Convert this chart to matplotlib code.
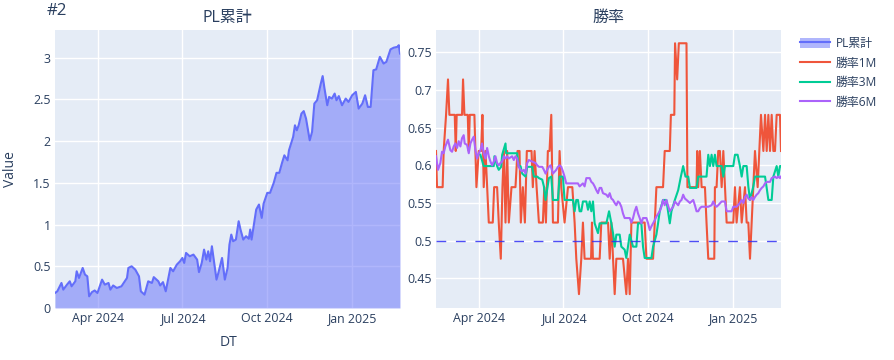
import pandas as pd
import matplotlib
matplotlib.use('Agg')
import matplotlib.pyplot as plt
import matplotlib.dates as mdates
from matplotlib.lines import Line2D
from matplotlib.patches import Patch

plt.rcParams['font.family'] = ['Open Sans', 'Noto Sans CJK JP', 'DejaVu Sans']

## DADOS (dias desde a data inicial)
start = pd.Timestamp('2024-02-14')

pl_day = [0, 2.5, 7, 9, 13, 16, 18, 22, 23.5, 26, 30, 32.5, 35, 37, 40, 43, 46, 51, 54, 58, 60, 63, 67, 72,
          78, 79.5, 83, 87, 91, 93, 97, 101, 105, 107, 112, 114, 117, 120, 125, 128, 132, 135.5, 138, 140,
          142, 146, 150, 154, 156, 159, 161.5, 164, 166, 168, 170, 175, 177, 181, 184, 187, 189, 191, 193,
          196, 199, 201, 204, 207, 210, 211.5, 213, 218, 221, 224, 226, 230, 233, 237, 240, 243, 246, 248.5,
          252, 253.5, 258, 260, 262, 264, 267, 269.5, 272, 276, 278.5, 281, 284, 288, 290, 292, 295, 297,
          300, 303, 305, 307.5, 311, 315, 318, 322, 326, 329, 333, 336, 339, 342, 345, 348, 352, 356, 359,
          363.5, 367, 371, 372.5, 373.8]
pl_value = [0.18, 0.20, 0.30, 0.22, 0.28, 0.32, 0.26, 0.32, 0.44, 0.36, 0.48, 0.40, 0.38, 0.14, 0.19, 0.21,
            0.18, 0.34, 0.28, 0.30, 0.22, 0.27, 0.24, 0.26, 0.36, 0.48, 0.50, 0.46, 0.38, 0.20, 0.16, 0.32,
            0.30, 0.37, 0.32, 0.27, 0.31, 0.20, 0.48, 0.44, 0.52, 0.56, 0.60, 0.54, 0.66, 0.62, 0.64, 0.58,
            0.43, 0.54, 0.70, 0.58, 0.68, 0.56, 0.74, 0.34, 0.42, 0.60, 0.34, 0.48, 0.76, 0.88, 0.80, 0.82,
            1.04, 0.94, 0.82, 0.86, 0.83, 0.94, 0.82, 1.18, 1.24, 1.08, 1.25, 1.38, 1.38, 1.50, 1.62, 1.62,
            1.74, 1.83, 1.77, 1.89, 2.05, 2.19, 2.13, 2.19, 2.33, 2.36, 2.27, 2.01, 2.11, 2.45, 2.49, 2.69,
            2.78, 2.63, 2.43, 2.53, 2.51, 2.57, 2.49, 2.54, 2.43, 2.51, 2.47, 2.55, 2.59, 2.39, 2.45, 2.55,
            2.41, 2.41, 2.85, 2.86, 3.01, 2.93, 2.95, 3.10, 3.12, 3.13, 3.15, 3.05]

wr1m_day = [0, 1.1, 7.2, 8.3, 10.9, 13, 14.5, 20.3, 21.4, 22.4, 28.2, 29.3, 30.8, 34.4, 35.5, 36.6, 41.6,
            43.8, 46.3, 48.9, 50.3, 51.7, 53.6, 55.4, 57.2, 61.5, 63, 66.2, 68, 70.2, 72, 73.5, 75.3, 77.1,
            78.9, 81.8, 86.1, 88.3, 90.5, 91.9, 94.1, 96.3, 98.4, 103.5, 104.9, 106.8, 109, 111.5, 115.8,
            117.3, 119.1, 121.2, 123, 124.9, 126.7, 132.1, 133.9, 135.7, 139.3, 143, 147.7, 150.2, 152,
            154.9, 157.4, 159.2, 161, 168, 169, 170, 177.3, 179.1, 186.4, 188.2, 190, 191.8, 193.6, 195.4,
            202.6, 206.2, 208, 209.9, 211.7, 226.1, 228, 235.2, 237, 238.8, 246, 247.8, 253.3, 254.5, 258.2,
            259, 261.3, 263.1, 271.4, 272.4, 282.3, 283, 284.1, 285.9, 287.8, 291.4, 293.1, 295, 301.5,
            302.2, 304, 305.8, 307.6, 309.5, 311.3, 313.1, 314.9, 322.1, 323.9, 325.7, 329.3, 331.2, 334.8,
            336.6, 338.4, 340.2, 342, 343.8, 345.6, 348.5, 350.3, 352.1, 354.7, 356.5, 358.3, 360.1, 361.9,
            363.7, 365.5, 367.3, 369.1, 372.7, 373.8]
wr1m = [0.619, 0.571, 0.571, 0.619, 0.667, 0.714, 0.667, 0.667, 0.619, 0.667, 0.667, 0.714, 0.667, 0.667,
        0.619, 0.667, 0.667, 0.571, 0.619, 0.619, 0.667, 0.571, 0.619, 0.571, 0.524, 0.524, 0.571, 0.571,
        0.524, 0.476, 0.571, 0.619, 0.524, 0.619, 0.524, 0.571, 0.571, 0.619, 0.619, 0.524, 0.571, 0.524,
        0.619, 0.619, 0.571, 0.619, 0.571, 0.524, 0.524, 0.571, 0.524, 0.619, 0.619, 0.667, 0.524, 0.524,
        0.619, 0.571, 0.524, 0.571, 0.571, 0.524, 0.476, 0.429, 0.476, 0.524, 0.476, 0.476, 0.524, 0.476,
        0.476, 0.524, 0.524, 0.476, 0.524, 0.476, 0.429, 0.476, 0.476, 0.429, 0.476, 0.429, 0.524, 0.524,
        0.476, 0.476, 0.524, 0.571, 0.571, 0.619, 0.619, 0.667, 0.667, 0.762, 0.714, 0.762, 0.762, 0.571,
        0.571, 0.619, 0.571, 0.619, 0.571, 0.571, 0.524, 0.476, 0.476, 0.571, 0.571, 0.619, 0.619, 0.571,
        0.619, 0.571, 0.524, 0.524, 0.571, 0.524, 0.571, 0.524, 0.571, 0.524, 0.524, 0.476, 0.524, 0.571,
        0.619, 0.571, 0.619, 0.667, 0.619, 0.667, 0.619, 0.667, 0.619, 0.667, 0.619, 0.619, 0.667, 0.667,
        0.619]

wr3m_day = [48.1, 51.7, 62.6, 63.3, 66.2, 68, 70.6, 71.7, 75.3, 76, 87.9, 89.7, 91.6, 93.4, 97, 98.8, 104.2,
            106, 109.7, 111.5, 115.1, 116.9, 118.7, 122.3, 124.9, 126.7, 132.1, 133.9, 137.5, 139.3, 148.4,
            150.2, 152, 153.8, 155.6, 157.4, 159.2, 162.9, 164.7, 166.5, 168.3, 170.1, 171.9, 175.5, 177.3,
            184.6, 187.5, 190, 191.8, 193.6, 195.4, 199, 200.8, 204.4, 206.2, 208, 209.9, 213.5, 217.1,
            218.9, 222.5, 224.3, 226.1, 233.4, 235.2, 238.8, 240.6, 242.4, 246, 249.6, 251.4, 253.3, 255.1,
            258.8, 262.4, 265.3, 267.8, 270.3, 273.3, 275.1, 282.3, 284.1, 293.1, 295, 296.8, 298.6, 300.4,
            302.2, 304, 309.5, 311.3, 313.1, 322.1, 323.9, 326.8, 329.3, 331.2, 333, 336.6, 338.4, 340.2,
            343.8, 345.6, 356.5, 358.3, 360.1, 363.7, 365.5, 369.1, 370.9, 372.7, 373.8]
wr3m = [0.614, 0.599, 0.599, 0.612, 0.599, 0.594, 0.598, 0.614, 0.629, 0.616, 0.616, 0.598, 0.599, 0.589,
        0.585, 0.598, 0.598, 0.585, 0.585, 0.583, 0.581, 0.572, 0.554, 0.583, 0.585, 0.554, 0.554, 0.585,
        0.585, 0.554, 0.554, 0.539, 0.554, 0.554, 0.539, 0.539, 0.552, 0.552, 0.541, 0.552, 0.539, 0.552,
        0.523, 0.510, 0.523, 0.523, 0.539, 0.523, 0.510, 0.492, 0.508, 0.508, 0.492, 0.488, 0.477, 0.492,
        0.508, 0.492, 0.492, 0.523, 0.523, 0.492, 0.477, 0.477, 0.492, 0.508, 0.523, 0.539, 0.554, 0.554,
        0.539, 0.523, 0.539, 0.554, 0.567, 0.585, 0.599, 0.585, 0.585, 0.570, 0.570, 0.585, 0.585, 0.614,
        0.599, 0.614, 0.599, 0.614, 0.599, 0.599, 0.585, 0.599, 0.599, 0.614, 0.614, 0.599, 0.585, 0.599,
        0.599, 0.572, 0.554, 0.572, 0.585, 0.585, 0.570, 0.554, 0.554, 0.585, 0.599, 0.585, 0.599, 0.599]

wr6m_day = [0, 2.2, 4.7, 6.5, 8.3, 10.1, 13, 15.6, 17.4, 19.2, 21, 22.8, 24.6, 26.4, 28.2, 30, 31.1, 33.7,
            35.5, 37.3, 39.1, 40.9, 42.7, 44.5, 46.3, 48.1, 49.9, 51.7, 53.6, 55.4, 57.2, 59, 60.8, 62.6,
            64.4, 66.2, 68, 69.8, 71.7, 73.5, 75.3, 77.1, 78.9, 82.5, 84.3, 86.1, 87.9, 89.7, 91.6, 93.4,
            95.2, 97, 98.8, 100.6, 104.2, 107.8, 109.7, 111.5, 115.1, 116.9, 118.7, 120.5, 122.3, 124.1,
            126.7, 130.3, 132.1, 133.9, 135.7, 137.5, 139.3, 141.1, 153.8, 155.6, 159.2, 161, 162.9, 166.5,
            168.3, 170.1, 171.9, 173.7, 175.5, 177.3, 179.1, 180.9, 184.6, 186.4, 188.2, 190, 191.8, 193.6,
            195.4, 197.2, 199, 200.8, 202.6, 204.4, 209.9, 211.7, 213.5, 215.3, 217.1, 218.9, 220.7, 222.5,
            224.3, 228, 229.8, 231.6, 233.4, 235.2, 237, 238.8, 242.4, 244.2, 246, 247.8, 249.6, 253.3, 257,
            258.8, 262.4, 264.2, 266, 267.8, 269.6, 271.5, 273.3, 275.1, 276.9, 278.7, 280.5, 282.3, 284.1,
            285.9, 287.8, 295, 298.6, 300.4, 302.2, 304, 305.8, 309.5, 313.1, 314.9, 320.3, 322.1, 325.7,
            329.3, 331.2, 333, 334.8, 336.6, 338.4, 340.2, 342, 343.8, 345.6, 347.4, 349.2, 351, 352.9,
            354.7, 356.5, 358.3, 361.9, 363.7, 367.3, 369.1, 370.9, 372.7, 373.8]
wr6m = [0.612, 0.594, 0.603, 0.618, 0.616, 0.625, 0.634, 0.620, 0.618, 0.625, 0.629, 0.623, 0.632, 0.625,
        0.636, 0.640, 0.629, 0.627, 0.616, 0.629, 0.634, 0.638, 0.620, 0.609, 0.616, 0.620, 0.629, 0.616,
        0.609, 0.623, 0.612, 0.605, 0.600, 0.605, 0.612, 0.603, 0.600, 0.603, 0.605, 0.612, 0.609, 0.612,
        0.609, 0.612, 0.607, 0.612, 0.609, 0.598, 0.594, 0.592, 0.594, 0.589, 0.603, 0.607, 0.605, 0.603,
        0.600, 0.598, 0.598, 0.594, 0.589, 0.594, 0.598, 0.600, 0.589, 0.594, 0.598, 0.600, 0.598, 0.592,
        0.585, 0.576, 0.576, 0.572, 0.576, 0.572, 0.583, 0.583, 0.578, 0.576, 0.572, 0.567, 0.563, 0.570,
        0.570, 0.563, 0.561, 0.558, 0.563, 0.556, 0.554, 0.550, 0.547, 0.552, 0.550, 0.545, 0.536, 0.530,
        0.530, 0.524, 0.530, 0.539, 0.545, 0.536, 0.530, 0.523, 0.530, 0.530, 0.523, 0.514, 0.519, 0.523,
        0.527, 0.532, 0.539, 0.545, 0.554, 0.547, 0.554, 0.539, 0.545, 0.552, 0.547, 0.552, 0.554, 0.561,
        0.556, 0.554, 0.552, 0.550, 0.552, 0.554, 0.547, 0.539, 0.539, 0.543, 0.545, 0.545, 0.547, 0.552,
        0.547, 0.545, 0.547, 0.552, 0.552, 0.539, 0.539, 0.545, 0.545, 0.550, 0.554, 0.550, 0.558, 0.561,
        0.556, 0.554, 0.558, 0.554, 0.558, 0.561, 0.563, 0.567, 0.570, 0.572, 0.576, 0.578, 0.578, 0.583,
        0.585, 0.583, 0.585, 0.583, 0.585]

xtick_dates = ['2024-04-01', '2024-07-01', '2024-10-01', '2025-01-01']
pl_yticks = [0, 0.5, 1, 1.5, 2, 2.5, 3]
wr_yticks = [0.45, 0.5, 0.55, 0.6, 0.65, 0.7, 0.75]


def to_dates(days):
    return start + pd.to_timedelta(days, unit='D')


txt = '#2a3f5f'
bg = '#E5ECF6'

fig = plt.figure(figsize=(8.94, 3.6), dpi=100)
ax1 = fig.add_axes([55 / 894, 1 - 308 / 360, 345 / 894, 278 / 360])
ax2 = fig.add_axes([436 / 894, 1 - 308 / 360, 345 / 894, 278 / 360])

# PL累計
pl_dates = to_dates(pl_day)
ax1.fill_between(pl_dates, pl_value, 0, color='#636EFA', alpha=0.5, linewidth=0)
ax1.plot(pl_dates, pl_value, color='#636EFA', linewidth=1.5)

# 勝率
ax2.plot(to_dates(wr1m_day), wr1m, color='#EF553B', linewidth=1.5)
ax2.plot(to_dates(wr3m_day), wr3m, color='#00CC96', linewidth=1.5)
ax2.plot(to_dates(wr6m_day), wr6m, color='#AB63FA', linewidth=1.5)
ax2.axhline(0.5, color='#2f2ff5', linewidth=1, dashes=(7, 7), alpha=0.85, zorder=5)

for ax in (ax1, ax2):
    ax.set_facecolor(bg)
    for s in ax.spines.values():
        s.set_visible(False)
    ax.grid(True, color='white', linewidth=1)
    ax.set_axisbelow(True)
    ax.tick_params(length=0, labelsize=8.9, labelcolor=txt, pad=3)
    ax.set_xlim(to_dates([0])[0], to_dates([373.8])[0])
    ax.set_xticks(pd.to_datetime(xtick_dates))
    ax.xaxis.set_major_formatter(mdates.DateFormatter('%b %Y'))

ax1.set_ylim(0, 3.332)
ax1.set_yticks(pl_yticks)
ax1.set_yticklabels([f'{v:g}' for v in pl_yticks])
ax2.set_ylim(0.4106, 0.7796)
ax2.set_yticks(wr_yticks)
ax2.set_yticklabels([f'{v:g}' for v in wr_yticks])

fig.text(47 / 894, 1 - 11 / 360, '#2', fontsize=12.2, color=txt, va='center', ha='left')
fig.text(227.5 / 894, 1 - 18 / 360, 'PL累計', fontsize=11.5, color=txt, va='center', ha='center')
fig.text(608.5 / 894, 1 - 18 / 360, '勝率', fontsize=11.5, color=txt, va='center', ha='center')
fig.text(11 / 894, 1 - 169 / 360, 'Value', fontsize=10, color=txt, va='center', ha='center', rotation=90)
fig.text(228 / 894, 1 - 343 / 360, 'DT', fontsize=10, color=txt, va='center', ha='center')

handles = [
    (Patch(facecolor='#636EFA', alpha=0.5, edgecolor='none'), Line2D([], [], color='#636EFA', linewidth=1.5)),
    Line2D([], [], color='#EF553B', linewidth=1.5),
    Line2D([], [], color='#00CC96', linewidth=1.5),
    Line2D([], [], color='#AB63FA', linewidth=1.5),
]
labels = ['PL累計', '勝率1M', '勝率3M', '勝率6M']
leg = fig.legend(handles, labels, loc='upper left', bbox_to_anchor=(800 / 894, 1 - 37 / 360),
                 frameon=False, fontsize=8.6, handlelength=2.5, handleheight=0.9,
                 labelspacing=0.55, handletextpad=0.5, borderaxespad=0, borderpad=0)
for t in leg.get_texts():
    t.set_color(txt)

fig.savefig('out.png', dpi=100)
